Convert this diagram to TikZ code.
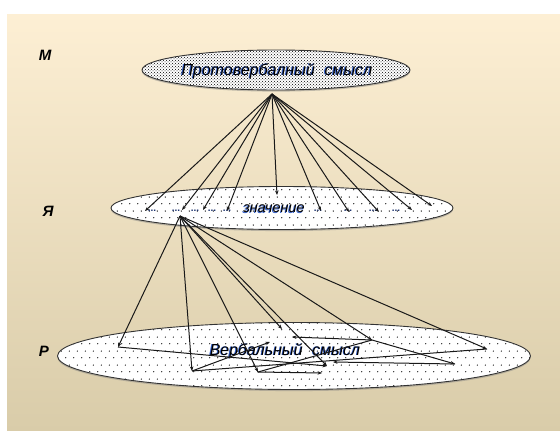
\documentclass[tikz,border=0pt]{standalone}
\usepackage{fontspec}
\setmainfont{Liberation Sans}
\usetikzlibrary{shapes.geometric,patterns,patterns.meta,arrows.meta,shadows}

% widely spaced dot grid for the lower two ellipses
\tikzdeclarepattern{
  name=sparsedots, type=uncolored,
  bounding box={(0pt,0pt) and (8pt,14pt)},
  tile size={(8pt,14pt)},
  code={\fill (2pt,3.5pt) circle (0.7pt); \fill (6pt,10.5pt) circle (0.7pt);}
}

\definecolor{bgtop}{HTML}{FDEFD4}
\definecolor{bgbot}{HTML}{D9CCA9}
\definecolor{txtshade}{HTML}{2E5BC8}
\definecolor{dotblue}{HTML}{1F3570}

\begin{document}
\begin{tikzpicture}[x=1pt,y=-1pt,
  level/.style={font=\fontsize{15}{17}\selectfont\bfseries\itshape},
  cloud/.style={ellipse, draw=black!80, line width=0.9pt, inner sep=0pt,
    drop shadow={shadow xshift=0pt, shadow yshift=-1.6pt, opacity=0.45},
    preaction={fill=white}},
  caption/.style={font=\fontsize{#1}{#1}\selectfont\itshape, inner sep=0pt},
  etc/.style={font=\fontsize{10}{10}\selectfont\bfseries, text=dotblue, inner sep=0pt},
  link/.style={draw=black!90, line width=1pt, -{Stealth[length=4.5pt,width=3.5pt]}},
  plain/.style={draw=black!90, line width=1pt}]

\useasboundingbox (0,0) rectangle (560,431);

% background panel
\begin{scope}[y=1pt]
  \shade[top color=bgtop, bottom color=bgbot] (7,-14) rectangle (560,-431);
\end{scope}

% level letters
\node[level] (lm) at (45,55) {М};
\node[level] (lja) at (48,211) {Я};
\node[level] (lr) at (44,351) {Р};

% the three ellipses
\node[cloud, pattern=crosshatch dots, pattern color=black,
      minimum width=268pt, minimum height=40pt] (proto) at (276,70) {};
\node[cloud, pattern=sparsedots, minimum width=342pt, minimum height=43pt] (znach) at (282,208) {};
\node[cloud, pattern=sparsedots, minimum width=473pt, minimum height=67pt] (verb) at (294,356) {};

% captions with a faint blue shade
\node[caption=16, text=txtshade] at (276.1,71.7) {Протовербалный\hspace{0.6em}смысл};
\node[caption=16] (tproto) at (277,71) {Протовербалный\hspace{0.6em}смысл};
\node[caption=14.5, text=txtshade] at (273.1,209.7) {значение};
\node[caption=14.5] (tznach) at (274,209) {значение};
\node[caption=16, text=txtshade] at (284.1,351.7) {Вербальный\hspace{0.6em}смысл};
\node[caption=16] (tverb) at (285,351) {Вербальный\hspace{0.6em}смысл};

% ellipsis marks along the middle ellipse
\foreach \x/\n in {152/e1,176/e2,195/e3,212/e4,227/e5,318/e6,348/e7,373/e8,396/e9}
  \node[etc] (\n) at (\x,211) {...};

% fan from the top ellipse down to the middle one
\coordinate (t) at (272,94);
\foreach \x/\y/\n in {145/211/m1,182/210/m2,203/210/m3,227/211/m4,277/195/m5,
                      321/211/m6,349/212/m7,379/212/m8,412/210/m9,432/206/m10}
  \coordinate (\n) at (\x,\y);
\foreach \n in {m1,m2,m3,m4,m5,m6,m7,m8,m9,m10}
  \draw[link] (t) -- (\n);

% fan from the middle ellipse down to the bottom one
\coordinate (z) at (180,216);
\coordinate (b1) at (118,347);
\coordinate (b2) at (192,371);
\coordinate (b3) at (258,372);
\coordinate (b4) at (282,329);
\coordinate (b5) at (327,366);
\coordinate (b6) at (372,340);
\coordinate (b7) at (487,349);
\foreach \n in {b1,b2,b3,b4,b5,b6,b7}
  \draw[link] (z) -- (\n);

% links inside the bottom ellipse
\coordinate (c1) at (270,342);
\coordinate (c2) at (322,373);
\coordinate (c3) at (292,337);
\coordinate (c4) at (455,364);
\coordinate (c5) at (333,362);
\draw[link] (b1) -- (b5);
\draw[link] (b2) -- (c1);
\draw[link] (b3) -- (c2);
\draw[plain] (b3) -- (b6);
\draw[link] (b6) -- (c3);
\draw[link] (b6) -- (c4);
\draw[link] (c4) -- (c5);
\draw[plain] (b7) -- (b2);

\end{tikzpicture}
\end{document}
